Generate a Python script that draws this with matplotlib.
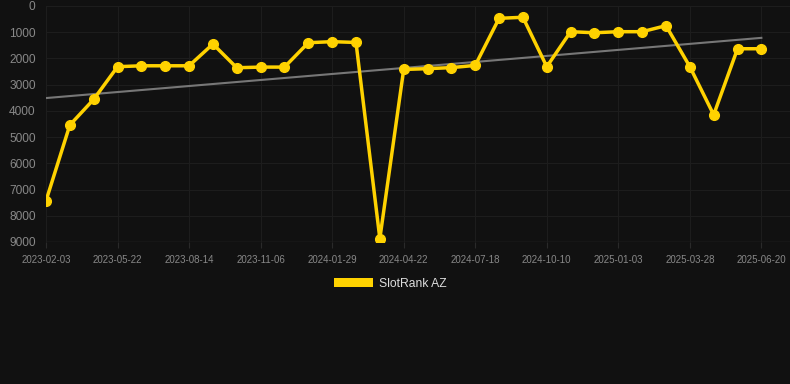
import matplotlib
matplotlib.use("Agg")
import matplotlib.pyplot as plt
import numpy as np
from matplotlib.patches import Patch

dates = ["2023-02-03", "", "", "2023-05-22", "", "", "2023-08-14", "", "", "2023-11-06",
         "", "", "2024-01-29", "", "", "2024-04-22", "", "", "2024-07-18", "", "",
         "2024-10-10", "", "", "2025-01-03", "", "", "2025-03-28", "", "", "2025-06-20"]
ranks = [7430, 4540, 3560, 2315, 2280, 2280, 2280, 1450, 2355, 2330, 2330, 1400, 1360, 1390,
         8870, 2420, 2390, 2350, 2265, 470, 430, 2315, 980, 1020, 980, 980, 750, 2315, 4150,
         1630, 1630]
series_name = "SlotRank AZ"
y_ticks = [0, 1000, 2000, 3000, 4000, 5000, 6000, 7000, 8000, 9000]

plt.rcParams['font.family'] = ['Liberation Sans', 'DejaVu Sans']
bg = "#111111"
fig = plt.figure(figsize=(7.9, 3.84), dpi=100, facecolor=bg)
ax = fig.add_axes([46/790, 1-242/384, 1-46/790, (242-6)/384])
ax.set_facecolor(bg)

x = np.arange(len(ranks))
coef = np.polyfit(x, ranks, 1)
trend = np.polyval(coef, x[[0, -1]])
ax.plot(x[[0, -1]], trend, color="#777777", lw=1.5, zorder=2)
ax.plot(x, ranks, color="#FFD200", lw=2.5, marker="o", ms=7, zorder=3, solid_joinstyle="round")

ax.set_ylim(9000, 0)
ax.set_xlim(0, 31.2)
ax.set_yticks(y_ticks)
ax.set_yticklabels([str(v) for v in y_ticks])
tick_idx = [i for i, d in enumerate(dates) if d]
ax.set_xticks(tick_idx)
ax.set_xticklabels([dates[i] for i in tick_idx])
ax.grid(True, color="#1d1d1d", lw=0.8)
ax.tick_params(axis="y", colors="#888888", labelsize=8.6, length=0, pad=7.5)
ax.tick_params(axis="x", colors="#888888", labelsize=7, length=4, color="#2a2a2a", pad=5.5)
for s in ax.spines.values():
    s.set_visible(False)
ax.axhline(9000, color="#2c2c2c", lw=1, zorder=1)

leg = fig.legend(handles=[Patch(facecolor="#FFD200", edgecolor="none", label=series_name)],
                 loc="center", bbox_to_anchor=(0.494, 1-284/384), frameon=False,
                 fontsize=8.7, labelcolor="#dddddd", handlelength=3.2, handleheight=0.8,
                 handletextpad=0.5)
fig.savefig("out.png", dpi=100, facecolor=bg)
